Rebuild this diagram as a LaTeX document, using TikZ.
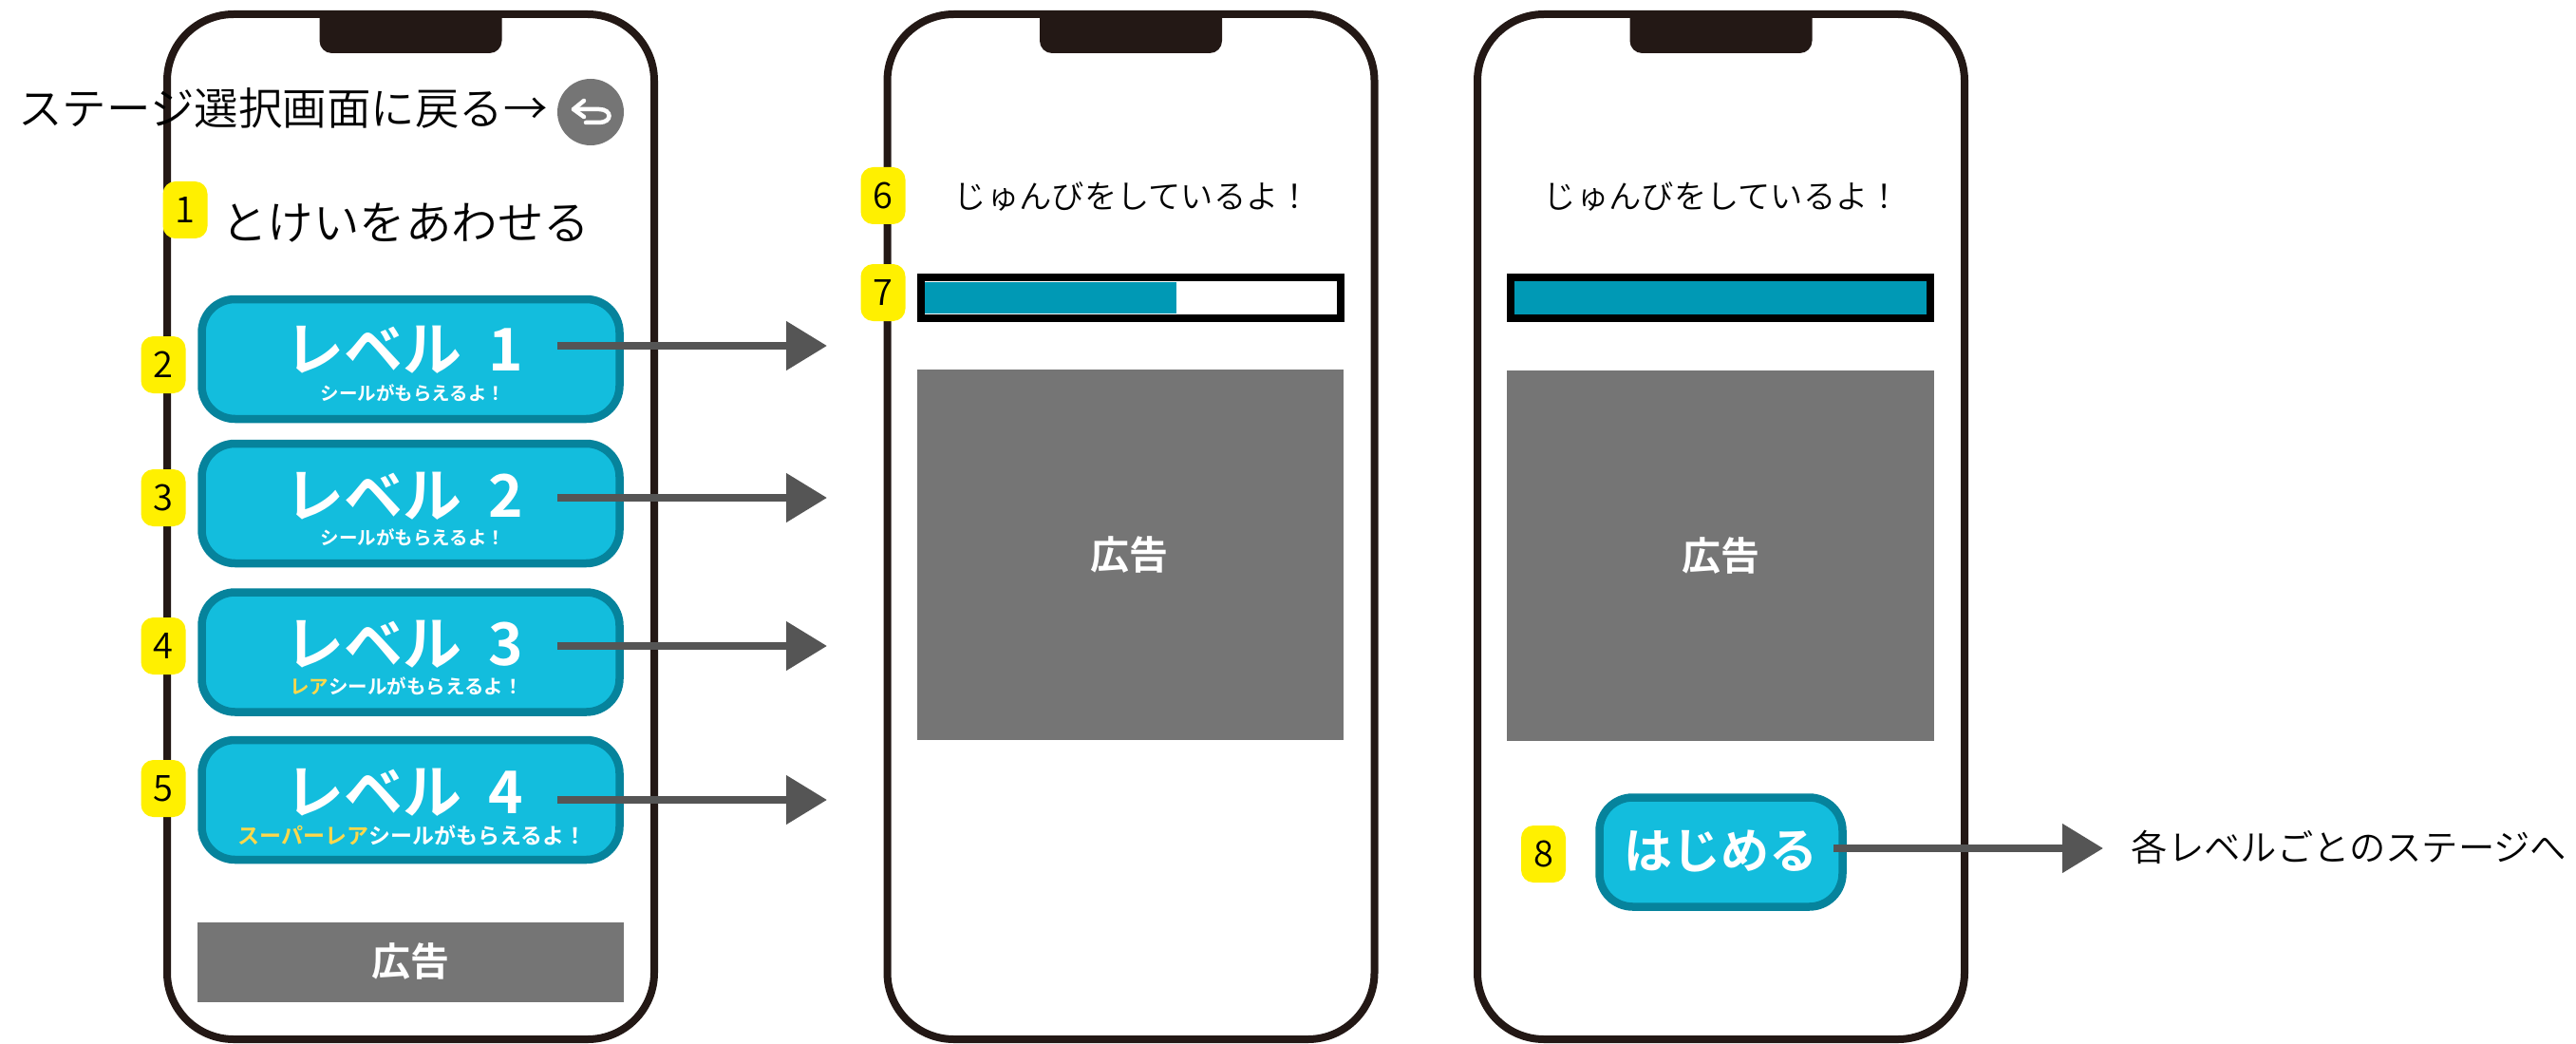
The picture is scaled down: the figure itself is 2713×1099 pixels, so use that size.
\documentclass[tikz,border=0pt]{standalone}
\usepackage{fontspec}
\setmainfont{Noto Sans CJK JP DemiLight}[BoldFont=Noto Sans CJK JP Bold]
\usetikzlibrary{arrows.meta}
\definecolor{framecol}{HTML}{231815}
\definecolor{badgecol}{HTML}{FFF000}
\definecolor{btnfill}{HTML}{13BDDD}
\definecolor{btnline}{HTML}{06839C}
\definecolor{adgray}{HTML}{757575}
\definecolor{flowgray}{HTML}{555555}
\definecolor{barblue}{HTML}{0099B5}
\definecolor{rarecol}{HTML}{FFD84A}
\newcommand{\fs}[1]{\fontsize{#1}{#1}\selectfont}

\begin{document}
\begin{tikzpicture}[x=1pt,y=-1pt,
  phone/.style={draw=framecol,fill=white,line width=8pt,rounded corners=70pt,minimum width=513pt,minimum height=1079pt,inner sep=0pt},
  badge/.style={fill=badgecol,rounded corners=13pt,minimum width=47pt,minimum height=60pt,inner sep=0pt,font=\fs{38}},
  btn/.style={draw=btnline,fill=btnfill,line width=8.5pt,rounded corners=35pt,minimum width=440pt,minimum height=126pt,inner sep=0pt},
  btntext/.style={text=white,inner sep=0pt,font=\bfseries\fs{#1}},
  adbox/.style={fill=adgray,inner sep=0pt},
  plain/.style={text=black,inner sep=0pt,font=\fs{#1}},
  flow/.style={draw=flowgray,line width=8pt,-{Triangle[length=43pt,width=50pt]}}]

\useasboundingbox (0,0) rectangle (2713,1099);

% phones
\foreach \n/\x in {1/432.5,2/1191,3/1812.5}
{
  \node[phone] (phone\n) at (\x,554.5) {};
  \fill[framecol] (\x-96,15) [rounded corners=13pt] -- (\x-96,56) -- (\x+96,56) [sharp corners] -- (\x+96,15) -- cycle;
}

% first screen
\node[plain=46.5] (backtext) at (298,114) {ステージ選択画面に戻る→};
\node[circle,fill=adgray,minimum size=70pt,inner sep=0pt] (back) at (622,118) {};
\draw[white,line width=4.5pt,line cap=round,line join=round] (615,106) -- (604,115) -- (615,123);
\draw[white,line width=4.5pt,line cap=round] (604,115) -- (631,115) .. controls (645,115) and (645,129) .. (631,129) -- (617,129);
\node[plain=48.5] (title) at (427,235) {とけいをあわせる};

\foreach \n/\y in {1/378,2/530,3/686.5,4/842}
{
  \node[btn] (lv\n) at (432.5,\y) {};
}
\node[btntext=62] (lvtext1) at (426,368) {レベル\hspace{28pt}1};
\node[btntext=62] (lvtext2) at (426,522) {レベル\hspace{28pt}2};
\node[btntext=62] (lvtext3) at (426,678) {レベル\hspace{28pt}3};
\node[btntext=62] (lvtext4) at (426,834) {レベル\hspace{28pt}4};
\node[btntext=19.5] (subtext1) at (435,414) {シールがもらえるよ！};
\node[btntext=19.5] (subtext2) at (435,566) {シールがもらえるよ！};
\node[btntext=20.5] (subtext3) at (428,722) {\textcolor{rarecol}{レア}シールがもらえるよ！};
\node[btntext=23] (subtext4) at (434,880) {\textcolor{rarecol}{スーパーレア}シールがもらえるよ！};

\node[adbox,minimum width=449pt,minimum height=84pt] (ad1) at (432.5,1013) {};
\node[btntext=41] (adtext1) at (432,1012) {広告};

% waiting screens
\node[plain=34.3] (wait2) at (1193,207) {じゅんびをしているよ！};
\node[plain=34.3] (wait3) at (1814,207) {じゅんびをしているよ！};

\node[draw=black,fill=white,line width=8pt,minimum width=442pt,minimum height=43pt,inner sep=0pt] (bar2) at (1191,313.5) {};
\fill[barblue] (bar2.west) ++(8,-17) rectangle (1239,330);
\node[draw=black,fill=barblue,line width=8pt,minimum width=442pt,minimum height=43pt,inner sep=0pt] (bar3) at (1812,313.5) {};

\node[adbox,minimum width=449pt,minimum height=390pt] (ad2) at (1190.5,584) {};
\node[btntext=41] (adtext2) at (1189,584) {広告};
\node[adbox,minimum width=450pt,minimum height=390pt] (ad3) at (1812,585) {};
\node[btntext=41] (adtext3) at (1812,585) {広告};

\node[btn,minimum width=256pt,minimum height=115pt] (start) at (1812.5,897) {};
\node[btntext=51] (starttext) at (1812,896) {はじめる};
\node[plain=38.3] (nextstage) at (2474,892) {各レベルごとのステージへ};

% flow arrows
\foreach \n/\y in {1/364,2/524,3/680,4/842}
{
  \coordinate (from\n) at (587,\y);
  \coordinate (to\n) at (871,\y);
  \draw[flow] (from\n) -- (to\n);
}
\coordinate (fromstart) at (1931,893);
\coordinate (tostart) at (2215,893);
\draw[flow] (fromstart) -- (tostart);

% numbered badges
\node[badge] (badge1) at (195,221) {1};
\node[badge] (badge2) at (172,384) {2};
\node[badge] (badge3) at (172,524) {3};
\node[badge] (badge4) at (172,680) {4};
\node[badge] (badge5) at (172,830) {5};
\node[badge] (badge6) at (930,206) {6};
\node[badge] (badge7) at (930,308) {7};
\node[badge] (badge8) at (1625.5,899) {8};

\end{tikzpicture}
\end{document}
